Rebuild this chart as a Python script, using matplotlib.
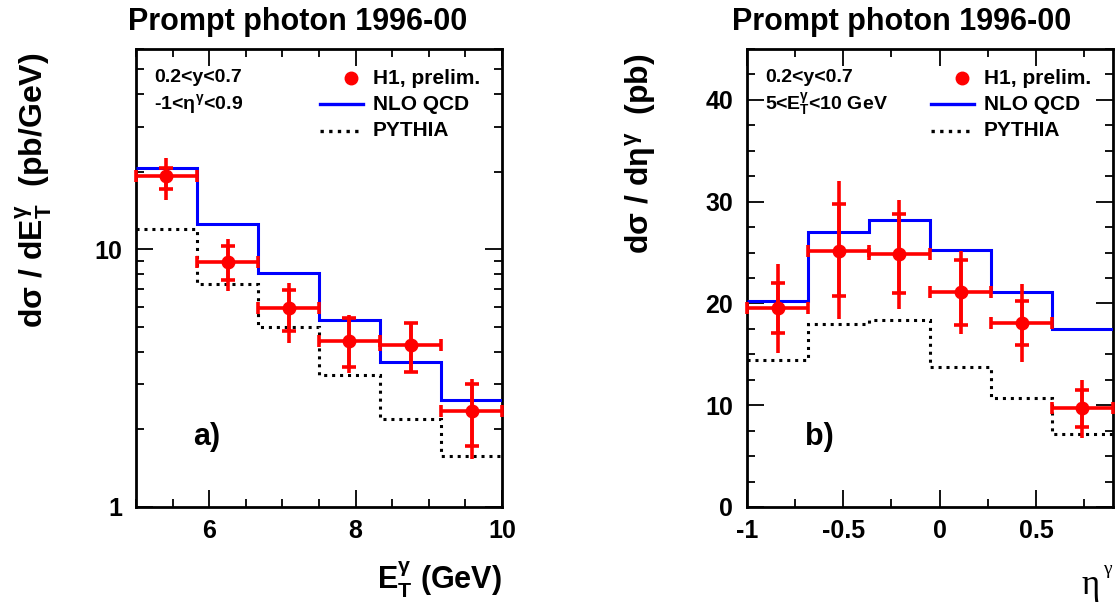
import numpy as np
import matplotlib
matplotlib.use("Agg")
import matplotlib.pyplot as plt
from matplotlib.ticker import FixedLocator, LogLocator, NullFormatter, MultipleLocator
from matplotlib.lines import Line2D

plt.rcParams['font.family'] = ['Liberation Sans', 'DejaVu Sans']
plt.rcParams['font.weight'] = 'bold'
plt.rcParams['mathtext.fontset'] = 'custom'
plt.rcParams['mathtext.rm'] = 'Liberation Sans:bold'
plt.rcParams['mathtext.it'] = 'Liberation Sans:bold'
plt.rcParams['mathtext.bf'] = 'Liberation Sans:bold'

# panel a) : d sigma / d E_T
et_edges = [5.0, 5.833, 6.667, 7.5, 8.333, 9.167, 10.0]
et_nlo = [20.7, 12.6, 8.13, 5.33, 3.66, 2.60]
et_pythia = [11.97, 7.32, 4.99, 3.25, 2.19, 1.58]
et_data = [19.3, 8.94, 5.91, 4.42, 4.26, 2.36]
et_stat_up = [20.8, 10.3, 6.98, 5.42, 5.17, 3.0]
et_stat_dn = [17.2, 7.64, 4.84, 3.50, 3.33, 1.72]
et_tot_up = [22.7, 10.97, 7.43, 5.54, 5.2, 3.13]
et_tot_dn = [15.6, 6.89, 4.33, 3.30, 3.3, 1.53]

# panel b) : d sigma / d eta
eta_edges = [-1.0, -0.683, -0.367, -0.05, 0.267, 0.583, 0.9]
eta_nlo = [20.2, 27.0, 28.2, 25.3, 21.1, 17.5]
eta_pythia = [14.4, 18.0, 18.4, 13.8, 10.7, 7.2]
eta_data = [19.6, 25.2, 24.9, 21.1, 18.1, 9.7]
eta_stat_up = [22.0, 29.8, 28.8, 24.3, 20.2, 11.5]
eta_stat_dn = [17.1, 20.7, 21.0, 17.9, 15.9, 7.9]
eta_tot_up = [23.9, 32.0, 30.2, 25.2, 21.9, 12.5]
eta_tot_dn = [15.1, 18.5, 19.5, 17.0, 14.2, 6.8]

W, H = 1120, 604
fig = plt.figure(figsize=(W / 100, H / 100), dpi=100)
ax1 = fig.add_axes([136 / W, 97 / H, 366 / W, 458 / H])
ax2 = fig.add_axes([747 / W, 97 / H, 366 / W, 458 / H])


def draw_panel(ax, edges, nlo, pyth, data, sup, sdn, tup, tdn):
    edges = np.array(edges)
    xc = 0.5 * (edges[1:] + edges[:-1])
    hw = 0.5 * (edges[1:] - edges[:-1])
    data = np.array(data)
    ax.stairs(pyth, edges, baseline=None, color='black', lw=2.2, ls=(0, (1, 1.6)), zorder=2)
    ax.stairs(nlo, edges, baseline=None, color='blue', lw=2.2, zorder=3)
    # total errors
    ax.errorbar(xc, data, yerr=[data - np.array(tdn), np.array(tup) - data],
                fmt='none', ecolor='red', elinewidth=2.6, capsize=0, zorder=4)
    # statistical ticks
    ax.errorbar(xc, data, yerr=[data - np.array(sdn), np.array(sup) - data],
                fmt='none', ecolor='red', elinewidth=2.6, capsize=5, capthick=2.6, zorder=4)
    # bin width
    ax.errorbar(xc, data, xerr=hw, fmt='o', color='red', ms=9, elinewidth=2.6,
                capsize=4, capthick=2.6, zorder=5, clip_on=False)
    ax.set_xlim(edges[0], edges[-1])
    for s in ax.spines.values():
        s.set_linewidth(2)
    ax.tick_params(which='both', direction='in', top=True, right=True, labelsize=18, width=1.3)
    ax.tick_params(which='major', length=12)
    ax.tick_params(which='minor', length=6)


draw_panel(ax1, et_edges, et_nlo, et_pythia, et_data, et_stat_up, et_stat_dn, et_tot_up, et_tot_dn)
draw_panel(ax2, eta_edges, eta_nlo, eta_pythia, eta_data, eta_stat_up, eta_stat_dn, eta_tot_up, eta_tot_dn)

ax1.set_yscale('log')
ax1.set_ylim(1, 60)
ax1.yaxis.set_major_locator(FixedLocator([1, 10]))
ax1.set_yticklabels(['1', '10'])
ax1.yaxis.set_minor_locator(LogLocator(base=10, subs=np.arange(2, 10)))
ax1.yaxis.set_minor_formatter(NullFormatter())
ax1.xaxis.set_major_locator(MultipleLocator(2))
ax1.xaxis.set_minor_locator(MultipleLocator(0.5))
ax1.tick_params(axis='x', pad=9)
ax1.tick_params(axis='y', pad=10)

ax2.set_ylim(0, 45)
ax2.yaxis.set_major_locator(MultipleLocator(10))
ax2.yaxis.set_minor_locator(MultipleLocator(2.5))
ax2.xaxis.set_major_locator(FixedLocator([-1, -0.5, 0, 0.5]))
ax2.set_xticklabels(['-1', '-0.5', '0', '0.5'])
ax2.xaxis.set_minor_locator(MultipleLocator(0.25))
ax2.tick_params(axis='x', pad=9)
ax2.tick_params(axis='y', pad=10)

# titles and axis labels
fig.text(298 / W, 1 - 22 / H, 'Prompt photon 1996-00', ha='center', va='center', fontsize=22)
fig.text(902 / W, 1 - 22 / H, 'Prompt photon 1996-00', ha='center', va='center', fontsize=22)
fig.text(34 / W, 1 - 53 / H, r'd$\sigma$ / dE$_T^{\gamma}$  (pb/GeV)', rotation=90,
         ha='center', va='top', fontsize=23)
fig.text(640 / W, 1 - 53 / H, r'd$\sigma$ / d$\eta^{\gamma}$  (pb)', rotation=90,
         ha='center', va='top', fontsize=23)
fig.text(502 / W, 1 - 580 / H, r'E$_T^{\gamma}$ (GeV)', ha='right', va='center', fontsize=22)
fig.text(1082 / W, 1 - 586 / H, 'η', ha='left', va='center', fontsize=25,
         family=['Liberation Serif', 'DejaVu Serif'], weight='normal')
fig.text(1103 / W, 1 - 569 / H, 'γ', ha='left', va='center', fontsize=14,
         family=['Liberation Serif', 'DejaVu Serif'], weight='normal')


def inner_text(ax, x0, cut2):
    def fx(px):
        return (px - x0) / 366

    def fy(py):
        return (507 - py) / 458

    t = ax.transAxes
    ax.text(fx(x0 + 18), fy(78), '0.2<y<0.7', transform=t, ha='left', va='center', fontsize=14)
    ax.text(fx(x0 + 18), fy(104), cut2, transform=t, ha='left', va='center', fontsize=14)
    ax.add_line(Line2D([fx(x0 + 215)], [fy(78)], transform=t, marker='o', color='red', ms=9))
    ax.add_line(Line2D([fx(x0 + 184), fx(x0 + 227)], [fy(104)] * 2, transform=t, color='blue', lw=2.4))
    ax.add_line(Line2D([fx(x0 + 184), fx(x0 + 227)], [fy(131)] * 2, transform=t, color='black',
                       lw=2.4, ls=(0, (1, 1.6))))
    for lab, py in [('H1, prelim.', 78), ('NLO QCD', 104), ('PYTHIA', 131)]:
        ax.text(fx(x0 + 237), fy(py), lab, transform=t, ha='left', va='center', fontsize=15)


inner_text(ax1, 136, r'-1<$\eta^{\gamma}$<0.9')
inner_text(ax2, 747, r'5<E$_T^{\gamma}$<10 GeV')

ax1.text((193 - 136) / 366, (507 - 437) / 458, 'a)', transform=ax1.transAxes,
         ha='left', va='center', fontsize=22)
ax2.text((805 - 747) / 366, (507 - 437) / 458, 'b)', transform=ax2.transAxes,
         ha='left', va='center', fontsize=22)

fig.savefig('out.png', dpi=100)
